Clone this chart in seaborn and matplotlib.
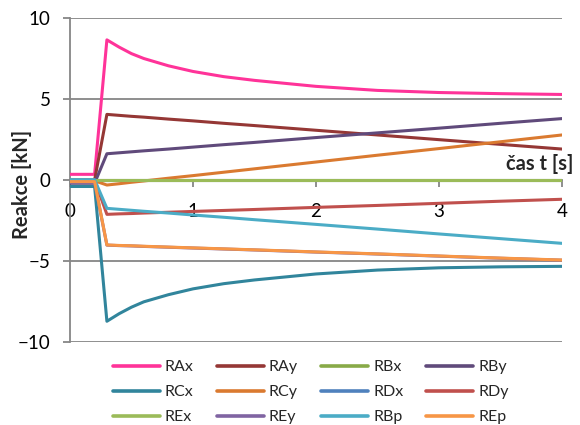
import matplotlib
matplotlib.use("Agg")
import matplotlib.pyplot as plt
import pandas as pd
import seaborn as sns
from matplotlib.lines import Line2D

# time steps [s]
time_s = [0, 0.1, 0.2, 0.3, 0.4, 0.5, 0.6, 0.8, 1.0, 1.25, 1.5, 2.0, 2.5, 3.0, 3.5, 4.0]

# support reactions [kN]
RAx = [0.35, 0.35, 0.35, 8.65, 8.2, 7.8, 7.5, 7.05, 6.7, 6.38, 6.15, 5.78, 5.53, 5.4, 5.33, 5.28]
RAy = [0.0, 0.0, 0.0, 4.05, 3.99, 3.93, 3.88, 3.76, 3.65, 3.5, 3.36, 3.07, 2.78, 2.49, 2.2, 1.91]
RBx = [0.0, 0.0, 0.0, 0.0, 0.0, 0.0, 0.0, 0.0, 0.0, 0.0, 0.0, 0.0, 0.0, 0.0, 0.0, 0.0]
RBy = [-0.2, -0.2, -0.2, 1.62, 1.68, 1.74, 1.8, 1.91, 2.03, 2.18, 2.32, 2.62, 2.91, 3.2, 3.5, 3.79]
RCx = [-0.4, -0.4, -0.4, -8.72, -8.25, -7.85, -7.52, -7.08, -6.72, -6.4, -6.17, -5.8, -5.56, -5.42, -5.36, -5.33]
RCy = [-0.05, -0.05, -0.05, -0.31, -0.23, -0.14, -0.06, 0.11, 0.27, 0.48, 0.69, 1.11, 1.53, 1.94, 2.36, 2.78]
RDx = [0.0, 0.0, 0.0, 0.0, 0.0, 0.0, 0.0, 0.0, 0.0, 0.0, 0.0, 0.0, 0.0, 0.0, 0.0, 0.0]
RDy = [0.0, 0.0, 0.0, -2.12, -2.09, -2.07, -2.04, -1.99, -1.94, -1.88, -1.82, -1.69, -1.57, -1.44, -1.31, -1.19]
REx = [0.0, 0.0, 0.0, 0.0, 0.0, 0.0, 0.0, 0.0, 0.0, 0.0, 0.0, 0.0, 0.0, 0.0, 0.0, 0.0]
REy = [-0.15, -0.15, -0.15, -4.02, -4.05, -4.07, -4.1, -4.15, -4.2, -4.26, -4.32, -4.45, -4.57, -4.7, -4.83, -4.95]
RBp = [0.02, 0.02, 0.02, -1.75, -1.81, -1.87, -1.93, -2.04, -2.16, -2.3, -2.45, -2.74, -3.03, -3.33, -3.62, -3.91]
REp = [-0.1, -0.1, -0.1, -4.01, -4.04, -4.06, -4.09, -4.14, -4.19, -4.25, -4.31, -4.44, -4.56, -4.69, -4.82, -4.94]

series_names = ["RAx", "RAy", "RBx", "RBy", "RCx", "RCy", "RDx", "RDy", "REx", "REy", "RBp", "REp"]
series_values = [RAx, RAy, RBx, RBy, RCx, RCy, RDx, RDy, REx, REy, RBp, REp]
series_colors = ["#FF3399", "#953735", "#88AA48", "#604A7B", "#31859C", "#DA7A30",
                 "#4F81BD", "#C0504D", "#9BBB59", "#8064A2", "#4BACC6", "#F79646"]

y_ticks = [-10, -5, 0, 5, 10]
x_ticks = [0, 1, 2, 3, 4]

rows = []
for name, vals in zip(series_names, series_values):
    for t, v in zip(time_s, vals):
        rows.append({"t": t, "value": v, "series": name})
df = pd.DataFrame(rows)

sns.set_theme(style="white")
plt.rcParams["font.family"] = ["Lato", "DejaVu Sans"]

W, H = 580, 425
fig = plt.figure(figsize=(W / 100, H / 100), dpi=100)
ax = fig.add_axes([70 / W, 1 - 342 / H, (562 - 70) / W, (342 - 18) / H])

grid_c = "#868686"
for yv in y_ticks:
    if yv != 0:
        ax.axhline(yv, color=grid_c, lw=1.3, zorder=0)

sns.lineplot(data=df, x="t", y="value", hue="series", hue_order=series_names,
             palette=dict(zip(series_names, series_colors)), estimator=None,
             sort=False, lw=2.2, legend=False, ax=ax, zorder=3)

ax.set_xlim(0, 4)
ax.set_ylim(-10, 10)
ax.set_xticks(x_ticks)
ax.set_yticks(y_ticks)
ax.set_xlabel("")
ax.set_ylabel("")

for side in ("top", "right"):
    ax.spines[side].set_visible(False)
ax.spines["bottom"].set_position(("data", 0))
ax.spines["bottom"].set_zorder(1)
for side in ("left", "bottom"):
    ax.spines[side].set_color(grid_c)
    ax.spines[side].set_linewidth(1.3)

ax.tick_params(axis="y", direction="out", length=5, width=1.3, color=grid_c,
               pad=9, labelsize=13.5, labelcolor="black", left=True)
ax.tick_params(axis="x", direction="out", length=5, width=1.3, color=grid_c,
               pad=11.5, labelsize=13.5, labelcolor="black", bottom=True)

fig.text(22 / W, 1 - 184 / H, "Reakce [kN]", rotation=90, ha="center", va="center",
         fontsize=14.5, fontweight="bold")
fig.text(573 / W, 1 - 164 / H, "čas t [s]", ha="right", va="center",
         fontsize=14.5, fontweight="bold")

# legend: 4 columns, filled row by row
handles = [Line2D([], [], color=c, lw=2.6) for c in series_colors]
order = [0, 4, 8, 1, 5, 9, 2, 6, 10, 3, 7, 11]
fig.legend([handles[i] for i in order], [series_names[i] for i in order],
           ncol=4, loc="upper left", bbox_to_anchor=(113 / W, 1 - 360 / H),
           frameon=False, fontsize=11.5, handlelength=2.94, handletextpad=0.31,
           columnspacing=1.45, labelspacing=0.68, borderpad=0, borderaxespad=0)

fig.savefig("out.png", dpi=100)
